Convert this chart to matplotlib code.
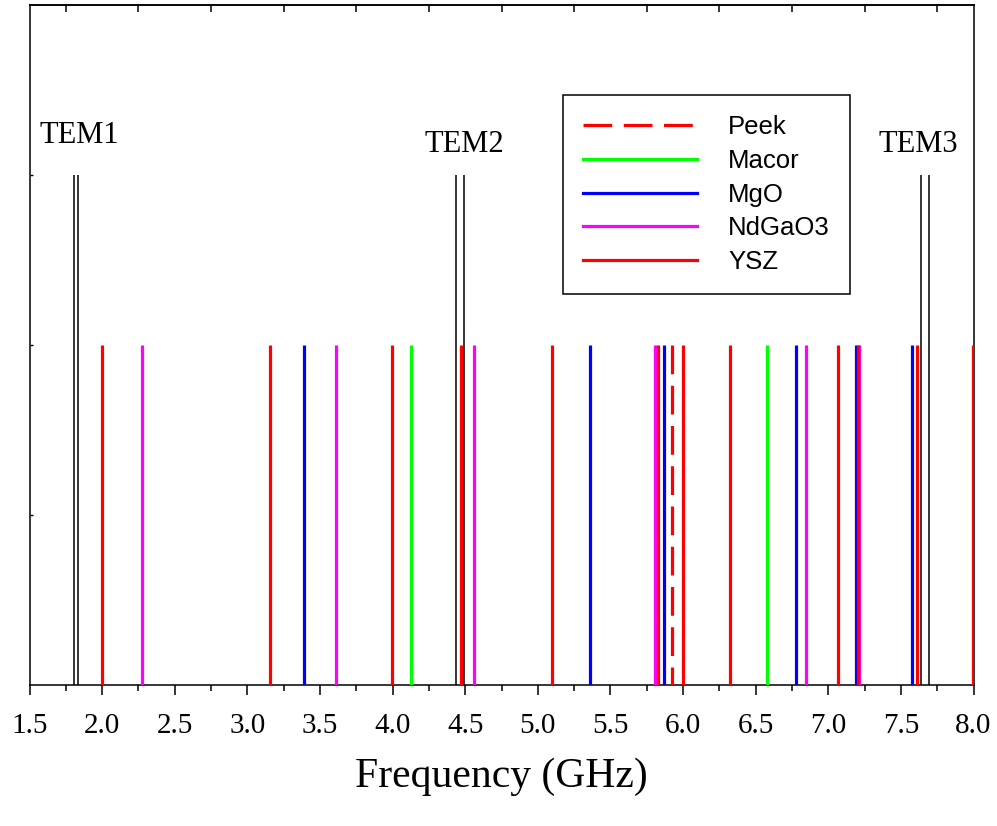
import matplotlib
matplotlib.use("Agg")
import matplotlib.pyplot as plt
import numpy as np

# ---- data (GHz) ----
peek = [5.922]
macor = [4.128, 6.579]
mgo = [3.389, 5.362, 5.871, 6.781, 7.189, 7.578]
ndgao3 = [2.277, 3.607, 4.560, 5.809, 6.845, 7.215]
ysz = [1.997, 3.159, 3.997, 4.468, 5.098, 5.825, 5.998, 6.320, 7.068, 7.203, 7.612, 7.998]
tem_lines = [1.809, 1.832, 4.438, 4.491, 7.637, 7.692]
tem_labels = ["TEM1", "TEM2", "TEM3"]
tem_label_x = [1.845, 4.493, 7.620]
tem_label_y = [3.23, 3.18, 3.18]
material_height = 2.0
tem_height = 3.0
xticks = [1.5, 2.0, 2.5, 3.0, 3.5, 4.0, 4.5, 5.0, 5.5, 6.0, 6.5, 7.0, 7.5, 8.0]

serif = "Liberation Serif"
sans = "Liberation Sans"

fig = plt.figure(figsize=(9.97, 8.26), dpi=100)
ax = fig.add_axes([29.5/997, 1-684.5/826, (973.5-29.5)/997, (684.5-5)/826])
ax.set_xlim(1.5, 8.0)
ax.set_ylim(0, 4)

lw = 2.3
# black TEM lines
ax.vlines(tem_lines, 0, tem_height, colors="black", linewidth=1.1, zorder=2)

ax.plot([peek[0], peek[0]], [material_height, 0], color="#ff0000", lw=lw,
        dashes=(9, 3.6), solid_capstyle="butt", dash_capstyle="butt", zorder=3)
ax.plot([], [], color="#ff0000", lw=lw, dashes=(9, 3.6), dash_capstyle="butt", label="Peek")
for vals, col, name in [(macor, "#00ff00", "Macor"), (mgo, "#0000ff", "MgO"),
                        (ndgao3, "#ff00ff", "NdGaO3"), (ysz, "#ff0000", "YSZ")]:
    ax.vlines(vals, 0, material_height, colors=col, linewidth=lw, zorder=3)
    ax.plot([], [], color=col, lw=lw, label=name)

for t, x, y in zip(tem_labels, tem_label_x, tem_label_y):
    ax.text(x, y, t, ha="center", va="center", fontsize=22, family=serif)

for s in ax.spines.values():
    s.set_linewidth(1.1)

ax.set_xticks(xticks)
ax.set_xticklabels([f"{v:.1f}" for v in xticks], fontsize=21, family=serif)
ax.set_xticks(np.arange(1.75, 8.0, 0.5), minor=True)
ax.tick_params(axis="x", which="major", direction="out", length=7.2, width=1.1, pad=13)
ax.tick_params(axis="x", which="minor", direction="out", length=4.5, width=1.1)
ax.set_yticks([1, 2, 3])
ax.set_yticklabels([])
ax.tick_params(axis="y", direction="in", length=2, width=1.0, left=True, right=False)

sec = ax.secondary_xaxis("top")
sec.set_xticks(np.arange(1.75, 8.0, 0.5))
sec.set_xticklabels([])
sec.tick_params(direction="in", length=4.8, width=1.1)
sec.spines["top"].set_linewidth(1.1)

ax.set_xlabel("Frequency (GHz)", fontsize=30, family=serif, labelpad=14)

leg = ax.legend(loc="upper left", bbox_to_anchor=(563/997, 1-95/826),
                bbox_transform=fig.transFigure, prop={"family": sans, "size": 18.5},
                frameon=True, fancybox=False, edgecolor="black", framealpha=1,
                handlelength=4.45, handletextpad=1.2, borderpad=0.78,
                labelspacing=0.38, borderaxespad=0)
leg.get_frame().set_linewidth(1.1)

fig.savefig("out.png", dpi=100)
